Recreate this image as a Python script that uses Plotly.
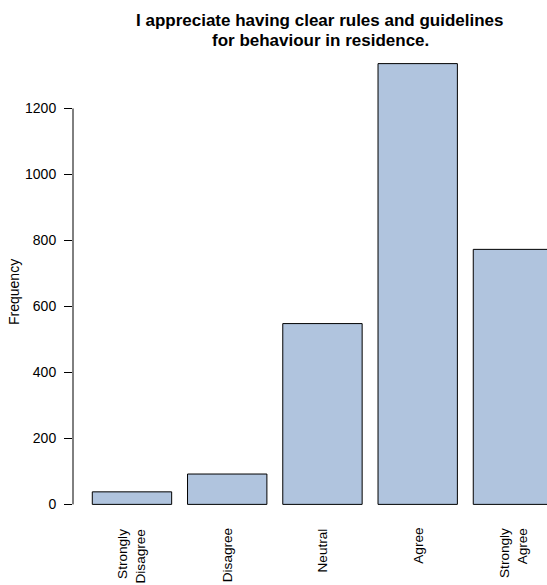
import plotly.graph_objects as go

categories = ["Strongly<br>Disagree", "Disagree", "Neutral", "Agree", "Strongly<br>Agree"]
frequencies = [38, 92, 548, 1336, 773]
y_ticks = [0, 200, 400, 600, 800, 1000, 1200]
title_lines = ["I appreciate having clear rules and guidelines",
               "for behaviour in residence."]
y_label = "Frequency"

FONT = "Liberation Sans, Arial, Helvetica, sans-serif"
BAR_FILL = "#B0C4DE"

# R barplot style positions: width 1, space 0.2
xpos = [0.7 + 1.2 * i for i in range(len(categories))]

W, H = 547, 585
ml, mr, mt, mb = 73, 0, 46, 63
plot_w = W - ml - mr
plot_h = H - mt - mb

fig = go.Figure()
fig.add_trace(go.Bar(
    x=xpos, y=frequencies, width=[1.0] * len(xpos),
    marker=dict(color=BAR_FILL, line=dict(color="black", width=1)),
    hoverinfo="skip", showlegend=False,
))

annotations = []
for xp, lab in zip(xpos, categories):
    annotations.append(dict(
        x=xp, xref="x", y=-5 / plot_h, yref="paper",
        text=lab, textangle=-90, showarrow=False,
        xanchor="center", yanchor="top", align="right", borderpad=0,
        font=dict(family=FONT, size=13.6, color="black"),
    ))

title_centers_px = [20.5, 40.5]
for line, cy in zip(title_lines, title_centers_px):
    annotations.append(dict(
        x=(320 - ml) / plot_w, xref="paper",
        y=(H - mb - cy) / plot_h, yref="paper",
        text="<b>" + line + "</b>", showarrow=False,
        xanchor="center", yanchor="middle",
        font=dict(family=FONT, size=17, color="black"),
    ))

annotations.append(dict(
    x=(14 - ml) / plot_w, xref="paper", y=(H - mb - 292) / plot_h, yref="paper",
    text=y_label, textangle=-90, showarrow=False,
    xanchor="center", yanchor="middle",
    font=dict(family=FONT, size=14, color="black"),
))

fig.update_layout(
    width=W, height=H,
    margin=dict(l=ml, r=mr, t=mt, b=mb, pad=0),
    paper_bgcolor="white", plot_bgcolor="white",
    font=dict(family=FONT, size=14, color="black"),
    xaxis=dict(range=[-0.043, 5.929], showgrid=False, zeroline=False,
               showline=False, showticklabels=False, ticks="", fixedrange=True),
    yaxis=dict(range=[-53.4, 1389.4], showgrid=False, zeroline=False,
               showline=False, tickmode="array", tickvals=y_ticks,
               ticktext=[str(v) for v in y_ticks],
               ticks="outside", ticklen=8, tickwidth=1, tickcolor="black",
               tickfont=dict(family=FONT, size=14, color="black"),
               ticklabelstandoff=5, fixedrange=True),
    annotations=annotations,
    shapes=[dict(type="line", xref="paper", yref="y", x0=0, x1=0,
                 y0=y_ticks[0], y1=y_ticks[-1],
                 line=dict(color="black", width=1))],
    bargap=0,
    hovermode=False,
)

fig.write_html(
    "out.html",
    config={"displayModeBar": False, "staticPlot": True},
    post_script="document.body.style.margin='0';document.body.style.padding='0';"
                "document.body.style.overflow='hidden';",
)
